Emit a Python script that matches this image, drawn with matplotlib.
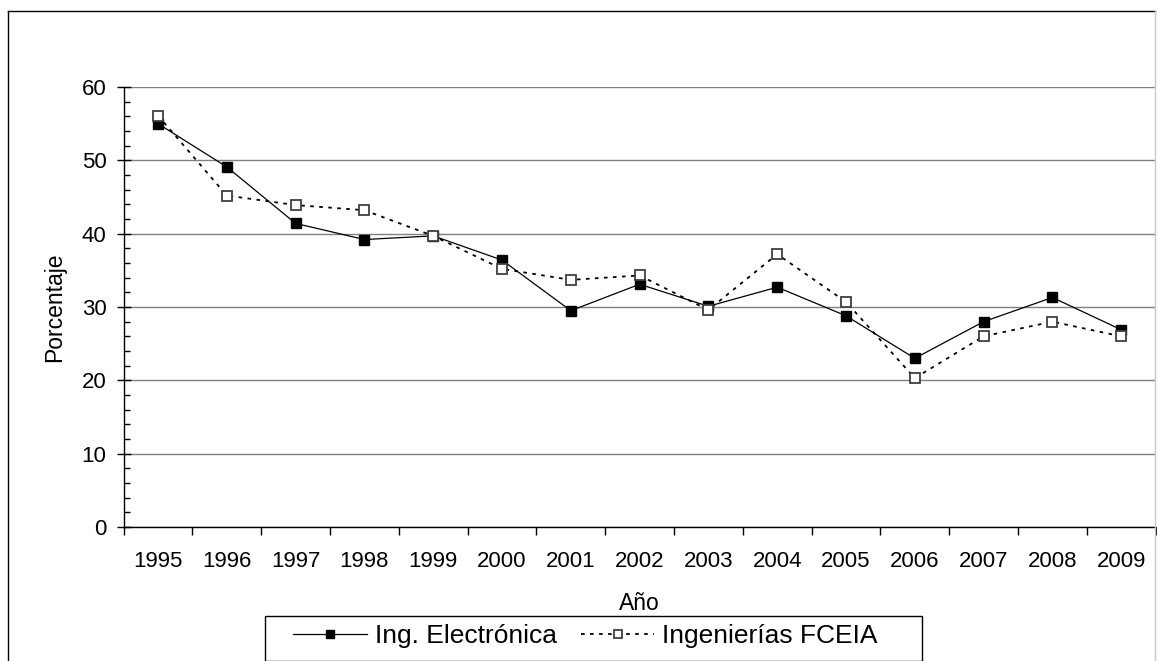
import matplotlib
matplotlib.use('Agg')
import matplotlib.pyplot as plt
from matplotlib.patches import Rectangle
from matplotlib.lines import Line2D

plt.rcParams['font.family'] = ['Liberation Sans', 'DejaVu Sans']

# datos
anios = ['1995', '1996', '1997', '1998', '1999', '2000', '2001', '2002',
         '2003', '2004', '2005', '2006', '2007', '2008', '2009']
electronica = [55.0, 49.1, 41.4, 39.2, 39.7, 36.4, 29.5, 33.1,
               30.1, 32.7, 28.8, 23.0, 28.0, 31.3, 26.9]
fceia = [56.1, 45.2, 43.9, 43.2, 39.7, 35.2, 33.7, 34.3,
         29.6, 37.2, 30.7, 20.3, 26.0, 28.0, 26.0]

W, H = 1157, 661
fig = plt.figure(figsize=(W / 100, H / 100), dpi=100)


def px(x, y):
    # pixel (desde arriba) -> fraccion de figura
    return x / W, 1 - y / H


# marco exterior del grafico
for (x0, y0), (x1, y1), col in [((8, 11), (8, 700), 'black'),
                                ((8, 11), (1155, 11), 'black'),
                                ((1155, 11), (1155, 700), '#c8c8c8')]:
    a, b = px(x0, y0)
    c, d = px(x1, y1)
    fig.add_artist(Line2D([a, c], [b, d], color=col, linewidth=1.0,
                          transform=fig.transFigure))

ax = fig.add_axes([123.6 / W, 1 - 527 / H, 1032 / W, 440 / H])

x = list(range(len(anios)))
ax.plot(x, electronica, color='black', linewidth=0.9, marker='s',
        markersize=7, markerfacecolor='black', markeredgecolor='black',
        label='Ing. Electrónica', zorder=4)
ax.plot(x, fceia, color='black', linewidth=1.3, linestyle=(0, (2, 3)),
        marker='s', markersize=7, markerfacecolor='white',
        markeredgecolor='#404040', markeredgewidth=1.3,
        label='Ingenierías FCEIA', zorder=5)

ax.set_xlim(-0.5, len(anios) - 0.5)
ax.set_ylim(0, 60)

# eje y
ax.set_yticks(range(0, 61, 10))
ax.set_yticks(range(0, 61, 2), minor=True)
ax.tick_params(axis='y', which='major', direction='inout', length=9.4,
               width=1, pad=7.6, labelsize=16)
ax.tick_params(axis='y', which='minor', direction='in', length=4, width=1)
ax.yaxis.grid(True, which='major', color='#808080', linewidth=1.0)
ax.set_axisbelow(True)

# eje x: marcas entre categorias, etiquetas al centro
ax.set_xticks([i - 0.5 for i in range(len(anios) + 1)])
ax.set_xticklabels([])
ax.set_xticks(x, minor=True)
ax.set_xticklabels(anios, minor=True)
ax.tick_params(axis='x', which='major', direction='out', length=6, width=1)
ax.tick_params(axis='x', which='minor', length=0, pad=17, labelsize=16)

for s in ['top', 'right']:
    ax.spines[s].set_visible(False)
ax.spines['left'].set_linewidth(1)
ax.spines['bottom'].set_linewidth(1)

ax.set_ylabel('Porcentaje', fontsize=16.5, va='center')
ax.yaxis.set_label_coords(-0.0665, 0.5)
ax.set_xlabel('Año', fontsize=16.5, va='center')
ax.xaxis.set_label_coords(0.5, -0.173)

# leyenda con marco dibujado aparte
lx, ly = px(265, 616)
fig.patches.append(Rectangle((lx, 0), 657 / W, ly, transform=fig.transFigure,
                             fill=False, edgecolor='black', linewidth=1.0))
leg = fig.legend(loc='center left', bbox_to_anchor=px(293, 636),
                 ncol=2, fontsize=19, frameon=False, borderpad=0,
                 borderaxespad=0, handlelength=2.8, handletextpad=0.3,
                 columnspacing=0.9, markerscale=0.85)

fig.savefig('out.png', dpi=100)
